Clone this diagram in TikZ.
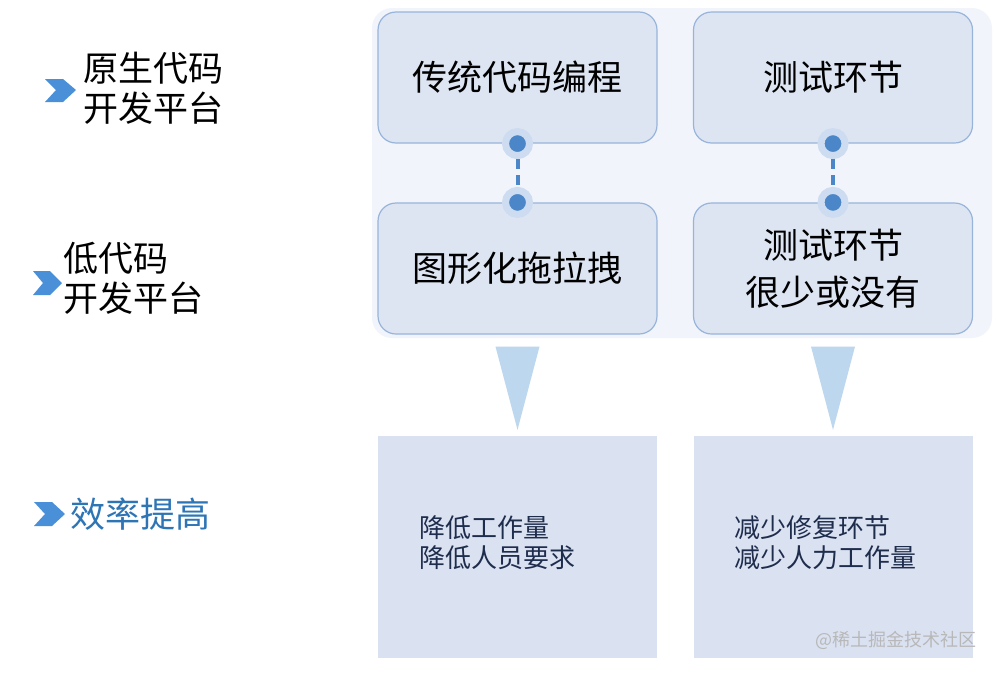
\documentclass[tikz,border=0pt]{standalone}
\usepackage{fontspec}
\setmainfont{Noto Sans CJK SC}
\usetikzlibrary{calc}
\definecolor{panelbg}{RGB}{241,245,251}
\definecolor{boxfill}{RGB}{221,229,243}
\definecolor{boxline}{RGB}{152,180,218}
\definecolor{lowfill}{RGB}{218,226,242}
\definecolor{dotblue}{RGB}{74,134,200}
\definecolor{halo}{RGB}{205,220,240}
\definecolor{trifill}{RGB}{189,215,238}
\definecolor{navytext}{RGB}{31,45,77}
\definecolor{gaintext}{RGB}{46,117,182}
\definecolor{chevblue}{RGB}{74,144,217}
\tikzset{
  topbox/.style={draw=boxline, line width=1.2pt, fill=boxfill, rounded corners=18pt,
    minimum width=279pt, minimum height=131pt, align=center,
    font=\fontsize{35}{47}\selectfont},
  lowbox/.style={fill=lowfill, minimum width=279pt, minimum height=222pt},
  dotnode/.style={circle, fill=dotblue, draw=halo, line width=7pt,
    minimum size=24pt, inner sep=0pt},
  sidelabel/.style={anchor=west, align=left, font=\fontsize{35}{40}\selectfont},
  gainlabel/.style={anchor=west, align=left, text=navytext,
    font=\fontsize{26}{30}\selectfont},
  chevron/.style={fill=chevblue}
}
\begin{document}
\begin{tikzpicture}[x=1pt,y=-1pt]
\useasboundingbox (0,0) rectangle (1000,672);
\fill[white] (0,0) rectangle (1000,672);
\fill[panelbg, rounded corners=20pt] (372,8) rectangle (992,338);

\node[topbox] (code) at (517.5,77.5) {传统代码编程};
\node[topbox] (test) at (833,77.5) {测试环节};
\node[topbox] (drag) at (517.5,268.5) {图形化拖拉拽};
\node[topbox] (few) at (833,268.5) {测试环节\\很少或没有};

\node[dotnode] (codedot) at (code.south) {};
\node[dotnode] (dragdot) at (drag.north) {};
\node[dotnode] (testdot) at (test.south) {};
\node[dotnode] (fewdot) at (few.north) {};
\draw[dotblue, line width=4pt, dash pattern=on 10pt off 6pt] (codedot) -- (dragdot);
\draw[dotblue, line width=4pt, dash pattern=on 10pt off 6pt] (testdot) -- (fewdot);

\node[lowbox] (cost) at (517.5,547) {};
\node[lowbox] (fix) at (833,547) {};
\node[gainlabel] (costtext) at (416,543) {降低工作量\\降低人员要求};
\node[gainlabel] (fixtext) at (731,543) {减少修复环节\\减少人力工作量};

\fill[trifill] ($(drag.south)+(-22,12)$) -- ($(drag.south)+(22,12)$) -- ($(cost.north)+(0,-6)$) -- cycle;
\fill[trifill] ($(few.south)+(-22,12)$) -- ($(few.south)+(22,12)$) -- ($(fix.north)+(0,-6)$) -- cycle;

\fill[chevron] (45,79) -- (63,79) -- (76,90) -- (63,102) -- (45,102) -- (56,90) -- cycle;
\node[sidelabel] (native) at (80,88) {原生代码\\开发平台};

\fill[chevron] (33,271) -- (50,271) -- (62,283) -- (50,295) -- (33,295) -- (43,283) -- cycle;
\node[sidelabel] (lowcode) at (60,278) {低代码\\开发平台};

\fill[chevron] (34,502) -- (52,502) -- (65,514) -- (52,526) -- (34,526) -- (45,514) -- cycle;
\node[sidelabel, text=gaintext] (gain) at (67,514) {效率提高};

\node[anchor=east, text=black!28, font=\fontsize{18}{20}\selectfont] (mark) at (980,640) {@稀土掘金技术社区};
\end{tikzpicture}
\end{document}
